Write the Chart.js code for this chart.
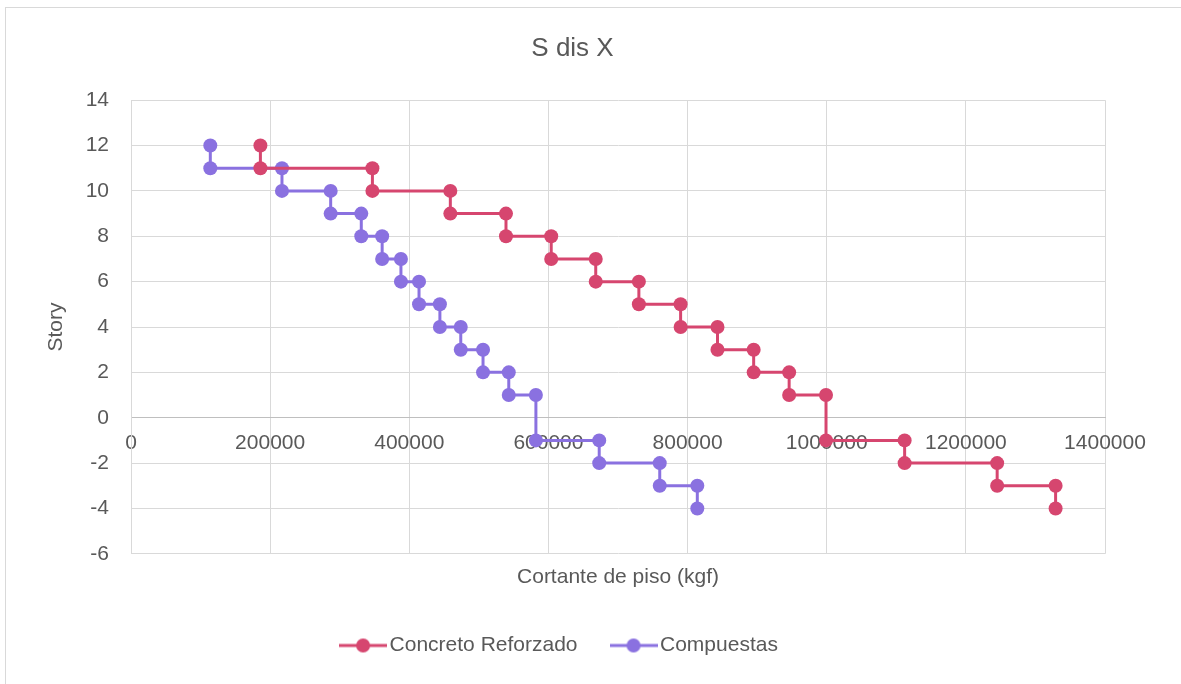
<!DOCTYPE html>
<html>
<head>
<meta charset="utf-8">
<script src="https://cdn.jsdelivr.net/npm/chart.js@4"></script>
<style>
  html, body { margin: 0; padding: 0; background: #fff; }
  #wrap { position: relative; width: 1181px; height: 684px; }
  #frame { position: absolute; left: 5px; top: 7px; right: 0; bottom: 0;
           border-left: 1px solid #d9d9d9; border-top: 1px solid #d9d9d9; }
  canvas { position: absolute; left: 0; top: 0; }
</style>
</head>
<body>
<div id="wrap">
  <div id="frame"></div>
  <canvas id="chart" width="1181" height="684"></canvas>
</div>
<script>
'use strict';

// story levels (0 is skipped), each step goes from one level to the next
const storyLevels = [12, 11, 10, 9, 8, 7, 6, 5, 4, 3, 2, 1, -1, -2, -3, -4];

// floor shear per step (kgf)
const concretoShear = [186000, 347000, 459000, 539000, 604000, 668000, 730000, 790000,
    843000, 895000, 946000, 999000, 1112000, 1245000, 1329000];
const compuestasShear = [114000, 217000, 287000, 331000, 361000, 388000, 414000, 444000,
    474000, 506000, 543000, 582000, 673000, 760000, 814000];

const seriesNames = ['Concreto Reforzado', 'Compuestas'];
const seriesColors = ['#d6466f', '#8a71e0'];

const xTicks = { min: 0, max: 1400000, step: 200000 };
const yTicks = { min: -6, max: 14, step: 2 };

// build step points: (shear, level i) -> (shear, level i+1)
function stepPoints(shear) {
    const pts = [];
    shear.forEach((v, i) => {
        pts.push({ x: v, y: storyLevels[i] });
        pts.push({ x: v, y: storyLevels[i + 1] });
    });
    return pts;
}

// legend marker: short line with a dot
function legendMarker(color) {
    const c = document.createElement('canvas');
    c.width = 48; c.height = 16;
    const g = c.getContext('2d');
    g.strokeStyle = color;
    g.lineWidth = 3;
    g.beginPath();
    g.moveTo(0, 8); g.lineTo(48, 8);
    g.stroke();
    g.fillStyle = color;
    g.beginPath();
    g.arc(24, 8, 7, 0, Math.PI * 2);
    g.fill();
    return c;
}

const textColor = '#595959';
const gridColor = '#d9d9d9';
const fontFamily = '"Liberation Sans", Arial, sans-serif';

const datasets = [concretoShear, compuestasShear].map((shear, i) => ({
    label: seriesNames[i],
    data: stepPoints(shear),
    borderColor: seriesColors[i],
    backgroundColor: seriesColors[i],
    borderWidth: 3,
    pointRadius: 7,
    pointHoverRadius: 7,
    pointBorderWidth: 0,
    showLine: true,
    fill: false
}));

// nudge the legend a bit to the left, like the original
const legendShift = {
    id: 'legendShift',
    afterLayout(chart) {
        chart.legend.left -= 10;
        chart.legend.right -= 10;
    }
};

new Chart(document.getElementById('chart'), {
    type: 'scatter',
    data: { datasets: datasets },
    plugins: [legendShift],
    options: {
        responsive: false,
        animation: false,
        layout: { padding: { left: 40, right: 76, top: 20, bottom: 18 } },
        plugins: {
            title: {
                display: true, text: 'S dis X', color: textColor,
                font: { family: fontFamily, size: 26, weight: 'normal' },
                padding: { top: 13, bottom: 36 }
            },
            legend: {
                position: 'bottom',
                labels: {
                    color: textColor,
                    font: { family: fontFamily, size: 21 },
                    usePointStyle: true,
                    pointStyleWidth: 32,
                    padding: 40,
                    generateLabels: function (chart) {
                        return chart.data.datasets.map((ds, i) => ({
                            text: ds.label,
                            pointStyle: legendMarker(seriesColors[i]),
                            fillStyle: seriesColors[i],
                            strokeStyle: seriesColors[i],
                            lineWidth: 0,
                            fontColor: textColor,
                            datasetIndex: i
                        }));
                    }
                }
            },
            tooltip: { enabled: false }
        },
        scales: {
            x: {
                type: 'linear',
                position: { y: 0 },
                min: xTicks.min, max: xTicks.max,
                ticks: {
                    stepSize: xTicks.step, color: textColor, padding: 13,
                    font: { family: fontFamily, size: 21 },
                    callback: v => String(v)
                },
                grid: { color: gridColor, drawTicks: false },
                border: { color: '#bfbfbf' }
            },
            xTitle: {
                type: 'linear',
                position: 'bottom',
                axis: 'x',
                ticks: { display: false },
                grid: { display: false, drawTicks: false },
                border: { display: false },
                title: {
                    display: true, text: 'Cortante de piso (kgf)', color: textColor,
                    font: { family: fontFamily, size: 21 },
                    padding: { top: 11, bottom: 5 }
                }
            },
            y: {
                type: 'linear',
                min: yTicks.min, max: yTicks.max,
                ticks: {
                    stepSize: yTicks.step, color: textColor, padding: 22,
                    font: { family: fontFamily, size: 21 }
                },
                grid: { color: gridColor, drawTicks: false },
                border: { color: gridColor },
                title: {
                    display: true, text: 'Story', color: textColor,
                    font: { family: fontFamily, size: 21 },
                    padding: { top: 4, bottom: 4 }
                },
                afterFit: function (scale) { scale.width = 91; }
            }
        }
    }
});
</script>
</body>
</html>
